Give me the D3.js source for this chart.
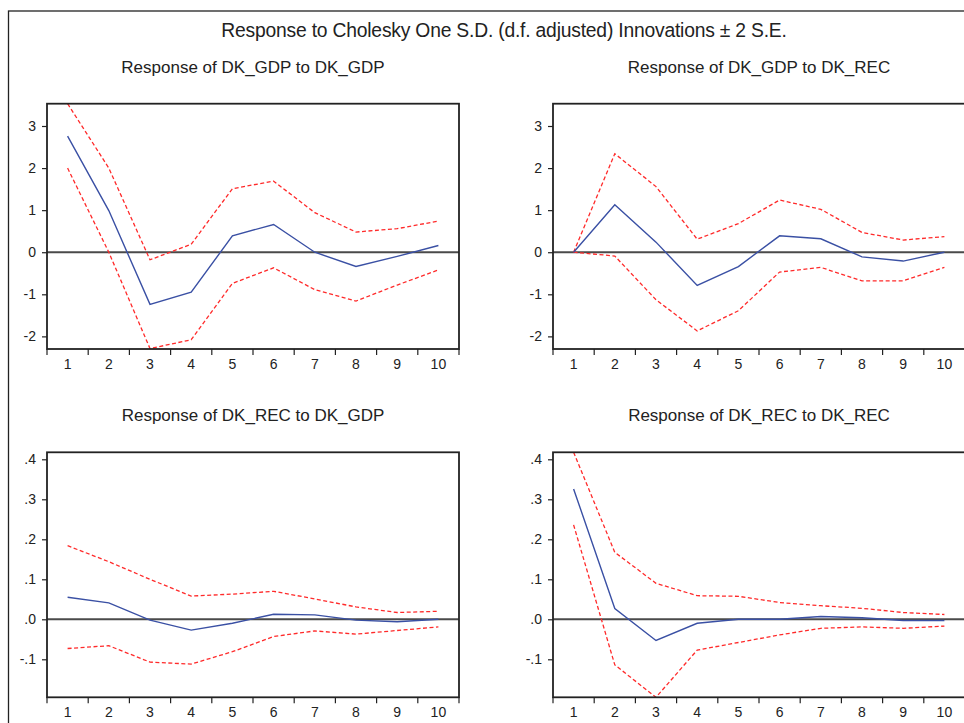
<!DOCTYPE html>
<html>
<head>
<meta charset="utf-8">
<script src="https://cdn.jsdelivr.net/npm/d3@7"></script>
<style>
  html, body { margin: 0; padding: 0; background: #fff; overflow: hidden; }
  text { font-family: "Liberation Sans", Arial, sans-serif; fill: #222; }
</style>
</head>
<body>
<svg id="chart" width="964" height="723"></svg>
<script>
// --- Data ---
const periods = [1, 2, 3, 4, 5, 6, 7, 8, 9, 10];

const gdpGdp      = [2.76, 0.99, -1.24, -0.95, 0.39, 0.66, 0.00, -0.34, -0.10, 0.16];
const gdpGdpUpper = [3.53, 2.00, -0.18, 0.19, 1.51, 1.69, 0.94, 0.48, 0.56, 0.74];
const gdpGdpLower = [2.00, 0.00, -2.29, -2.08, -0.74, -0.37, -0.89, -1.16, -0.78, -0.42];

const gdpRec      = [0.00, 1.13, 0.24, -0.79, -0.34, 0.39, 0.32, -0.11, -0.21, 0.00];
const gdpRecUpper = [0.00, 2.34, 1.56, 0.31, 0.68, 1.24, 1.02, 0.47, 0.29, 0.37];
const gdpRecLower = [0.00, -0.09, -1.13, -1.87, -1.39, -0.47, -0.36, -0.68, -0.68, -0.36];

const recGdp      = [0.055, 0.041, -0.002, -0.027, -0.010, 0.0125, 0.011, -0.002, -0.006, 0.000];
const recGdpUpper = [0.184, 0.144, 0.100, 0.058, 0.063, 0.070, 0.051, 0.031, 0.017, 0.020];
const recGdpLower = [-0.073, -0.066, -0.107, -0.112, -0.081, -0.043, -0.029, -0.037, -0.028, -0.019];

const recRec      = [0.326, 0.027, -0.053, -0.010, 0.000, 0.000, 0.007, 0.004, -0.003, -0.003];
const recRecUpper = [0.4175, 0.1675, 0.090, 0.059, 0.0575, 0.042, 0.034, 0.0275, 0.017, 0.012];
const recRecLower = [0.236, -0.114, -0.195, -0.077, -0.058, -0.039, -0.0225, -0.019, -0.0225, -0.017];

const gdpTicks = [-2, -1, 0, 1, 2, 3];
const gdpTickLabels = ["-2", "-1", "0", "1", "2", "3"];
const recTicks = [-0.1, 0, 0.1, 0.2, 0.3, 0.4];
const recTickLabels = ["-.1", ".0", ".1", ".2", ".3", ".4"];

const mainTitle = "Response to Cholesky One S.D. (d.f. adjusted) Innovations \u00b1 2 S.E.";

const panels = [
  { title: "Response of DK_GDP to DK_GDP", mid: gdpGdp, up: gdpGdpUpper, lo: gdpGdpLower, col: 0, row: 0 },
  { title: "Response of DK_GDP to DK_REC", mid: gdpRec, up: gdpRecUpper, lo: gdpRecLower, col: 1, row: 0 },
  { title: "Response of DK_REC to DK_GDP", mid: recGdp, up: recGdpUpper, lo: recGdpLower, col: 0, row: 1 },
  { title: "Response of DK_REC to DK_REC", mid: recRec, up: recRecUpper, lo: recRecLower, col: 1, row: 1 }
];

// --- Layout ---
const colX = [[47, 459], [553, 965]];
const rowY = [[103.7, 349], [452.3, 697.3]];
const rowDomain = [[-2.3, 3.53], [-0.195, 0.4175]];
const rowTicks = [gdpTicks, recTicks];
const rowLabels = [gdpTickLabels, recTickLabels];

const svg = d3.select("#chart");

// outer frame (runs off the right and bottom edge like the screenshot)
svg.append("rect")
  .attr("x", 8.5).attr("y", 11)
  .attr("width", 1000).attr("height", 800)
  .attr("fill", "none")
  .attr("stroke", "#222")
  .attr("stroke-width", 1.3);

svg.append("text")
  .attr("x", 504).attr("y", 37)
  .attr("text-anchor", "middle")
  .attr("font-size", 19.3)
  .attr("letter-spacing", -0.2)
  .text(mainTitle);

panels.forEach(p => {
  const [x0, x1] = colX[p.col];
  const [y0, y1] = rowY[p.row];
  const ticks = rowTicks[p.row];
  const labels = rowLabels[p.row];

  const x = d3.scaleBand().domain(periods).range([x0, x1]);
  const y = d3.scaleLinear().domain(rowDomain[p.row]).range([y1, y0]);
  const cx = d => x(d) + x.bandwidth() / 2;

  const g = svg.append("g");

  g.append("text")
    .attr("x", (x0 + x1) / 2)
    .attr("y", y0 - 31)
    .attr("text-anchor", "middle")
    .attr("font-size", 17)
    .text(p.title);

  // clip so lines stay inside the frame
  const clipId = `clip-${p.row}-${p.col}`;
  svg.append("clipPath").attr("id", clipId)
    .append("rect")
    .attr("x", x0).attr("y", y0)
    .attr("width", x1 - x0).attr("height", y1 - y0);

  const plot = g.append("g").attr("clip-path", `url(#${clipId})`);

  // zero line
  plot.append("line")
    .attr("x1", x0).attr("x2", x1)
    .attr("y1", y(0)).attr("y2", y(0))
    .attr("stroke", "#4a4a4a")
    .attr("stroke-width", 2);

  const line = d3.line()
    .x((d, i) => cx(periods[i]))
    .y(d => y(d));

  [p.up, p.lo].forEach(band => {
    plot.append("path")
      .datum(band)
      .attr("d", line)
      .attr("fill", "none")
      .attr("stroke", "#ff2a2a")
      .attr("stroke-width", 1.3)
      .attr("stroke-dasharray", "4,2.5");
  });

  plot.append("path")
    .datum(p.mid)
    .attr("d", line)
    .attr("fill", "none")
    .attr("stroke", "#3a50a4")
    .attr("stroke-width", 1.4);

  // frame
  g.append("rect")
    .attr("x", x0).attr("y", y0)
    .attr("width", x1 - x0).attr("height", y1 - y0)
    .attr("fill", "none")
    .attr("stroke", "#222")
    .attr("stroke-width", 1.8);

  // x ticks at band boundaries, labels at band centres
  const bounds = periods.map(d => x(d)).concat([x1]);
  g.selectAll(".xtick").data(bounds).enter().append("line")
    .attr("x1", d => d).attr("x2", d => d)
    .attr("y1", y1).attr("y2", y1 + 6)
    .attr("stroke", "#222")
    .attr("stroke-width", 1.2);

  g.selectAll(".xlab").data(periods).enter().append("text")
    .attr("x", d => cx(d))
    .attr("y", y1 + 19.5)
    .attr("text-anchor", "middle")
    .attr("font-size", 14)
    .text(d => d);

  // y ticks
  const yAxis = d3.axisLeft(y)
    .tickValues(ticks)
    .tickSize(5)
    .tickPadding(6)
    .tickFormat((d, i) => labels[i]);

  const ya = g.append("g")
    .attr("transform", `translate(${x0},0)`)
    .call(yAxis);
  ya.select(".domain").remove();
  ya.selectAll(".tick line").attr("stroke", "#222").attr("stroke-width", 1.2);
  ya.selectAll(".tick text")
    .attr("font-size", 14)
    .attr("font-family", "Liberation Sans, Arial, sans-serif")
    .attr("fill", "#222");
});
</script>
</body>
</html>
